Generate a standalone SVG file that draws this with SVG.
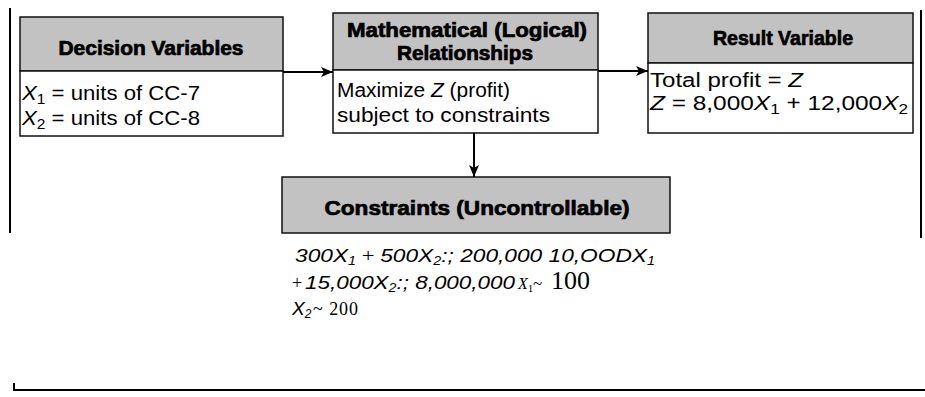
<svg xmlns="http://www.w3.org/2000/svg" width="925" height="397" viewBox="0 0 925 397">
<style>
.hdr{fill:#c2c2c2;stroke:#111;stroke-width:1.5}
.body{fill:#fff;stroke:#111;stroke-width:1.5}
.ht{font-family:"Liberation Sans",Arial,sans-serif;font-weight:bold;font-size:20px;fill:#000;stroke:#000;stroke-width:0.7;text-anchor:middle}
.bt{font-family:"Liberation Sans",Arial,sans-serif;font-size:20px;fill:#000}
.ct{font-family:"Liberation Sans",Arial,sans-serif;font-style:italic;font-size:19px;fill:#000}
.sr{font-family:"Liberation Serif","Times New Roman",serif;fill:#000}
.conn{stroke:#000;stroke-width:2;fill:none}
.frame{stroke:#000;stroke-width:2;fill:none}
</style>
<defs>
<marker id="ah" viewBox="0 0 12 10" refX="12" refY="5" markerWidth="12" markerHeight="10" markerUnits="userSpaceOnUse" orient="auto">
<path d="M0,0 L12,5 L0,10 L3,5 Z" fill="#000"/>
</marker>
</defs>
<g id="frame">
<line class="frame" x1="10" y1="8" x2="10" y2="233"/>
<line class="frame" x1="921" y1="10" x2="921" y2="238"/>
<polyline class="frame" points="14,383 14,390 925,390"/>
</g>
<g id="decision">
<rect class="hdr" x="20" y="17" width="263" height="54"/>
<rect class="body" x="20" y="71" width="263" height="65"/>
<text class="ht" x="151" y="55" textLength="185" lengthAdjust="spacingAndGlyphs">Decision Variables</text>
<text class="bt" x="22" y="100" textLength="178" lengthAdjust="spacingAndGlyphs"><tspan font-style="italic">X</tspan><tspan font-size="14" dy="4">1</tspan><tspan dy="-4"> = units of CC-7</tspan></text>
<text class="bt" x="22" y="125" textLength="178" lengthAdjust="spacingAndGlyphs"><tspan font-style="italic">X</tspan><tspan font-size="14" dy="4">2</tspan><tspan dy="-4"> = units of CC-8</tspan></text>
</g>
<g id="math">
<rect class="hdr" x="333" y="13" width="265" height="57"/>
<rect class="body" x="333" y="70" width="265" height="63"/>
<text class="ht" x="467" y="37" textLength="240" lengthAdjust="spacingAndGlyphs">Mathematical (Logical)</text>
<text class="ht" x="465" y="60" textLength="136" lengthAdjust="spacingAndGlyphs">Relationships</text>
<text class="bt" x="337" y="97" textLength="173" lengthAdjust="spacingAndGlyphs">Maximize <tspan font-style="italic">Z</tspan> (profit)</text>
<text class="bt" x="337" y="122" textLength="213" lengthAdjust="spacingAndGlyphs">subject to constraints</text>
</g>
<g id="result">
<rect class="hdr" x="648" y="13" width="265" height="50"/>
<rect class="body" x="648" y="63" width="265" height="70"/>
<text class="ht" x="783" y="45" textLength="140" lengthAdjust="spacingAndGlyphs">Result Variable</text>
<text class="bt" x="650" y="87" textLength="153" lengthAdjust="spacingAndGlyphs">Total profit = <tspan font-style="italic">Z</tspan></text>
<text class="bt" x="650" y="110" textLength="258" lengthAdjust="spacingAndGlyphs"><tspan font-style="italic">Z</tspan> = 8,000<tspan font-style="italic">X</tspan><tspan font-size="14" dy="4">1</tspan><tspan dy="-4"> + 12,000</tspan><tspan font-style="italic">X</tspan><tspan font-size="14" dy="4">2</tspan></text>
</g>
<g id="constraints">
<rect class="hdr" x="282" y="177" width="388" height="56"/>
<text class="ht" x="477" y="215" textLength="305" lengthAdjust="spacingAndGlyphs">Constraints (Uncontrollable)</text>
<text class="ct" x="295" y="262" textLength="360" lengthAdjust="spacingAndGlyphs">300X<tspan font-size="12" dy="3">1</tspan><tspan dy="-3" class="sr" font-style="normal"> + </tspan>500X<tspan font-size="12" dy="3">2</tspan><tspan dy="-3">:; 200,000 10,OODX</tspan><tspan font-size="12" dy="3">1</tspan></text>
<text class="sr" x="292" y="289" font-size="18">+</text>
<text class="ct" x="305" y="289" textLength="210" lengthAdjust="spacingAndGlyphs">15,000X<tspan font-size="12" dy="3">2</tspan><tspan dy="-3">:; 8,000,000</tspan></text>
<text class="sr" x="518" y="289" font-size="16" font-style="italic">X<tspan font-size="11" font-style="normal" dy="3">1</tspan></text>
<text class="sr" x="533" y="289" font-size="17">~</text>
<text class="sr" x="551" y="289" font-size="26">100</text>
<text class="ct" x="292" y="315">X<tspan font-size="12" dy="3">2</tspan></text>
<text class="sr" x="313" y="315" font-size="18" textLength="45" lengthAdjust="spacing">~ 200</text>
</g>
<g id="connectors">
<line class="conn" x1="283" y1="72" x2="333" y2="72" marker-end="url(#ah)"/>
<line class="conn" x1="598" y1="71" x2="648" y2="71" marker-end="url(#ah)"/>
<line class="conn" x1="474" y1="133" x2="474" y2="177" marker-end="url(#ah)"/>
</g>
</svg>
